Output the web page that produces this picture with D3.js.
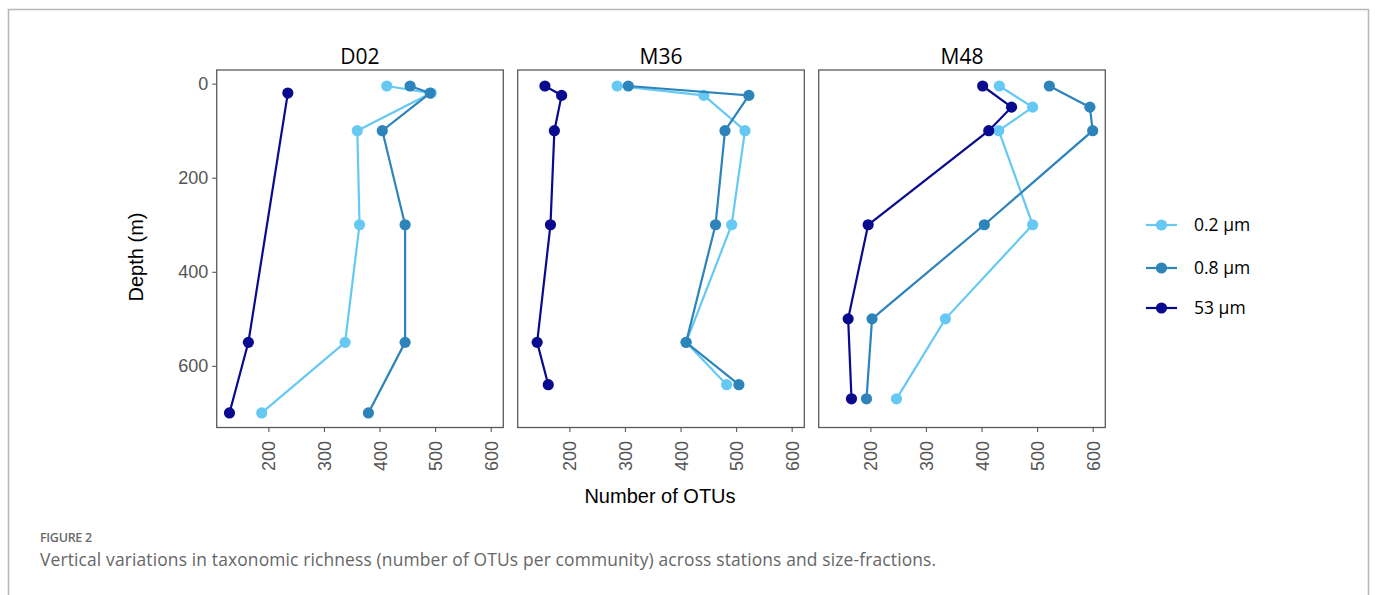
<!DOCTYPE html>
<html>
<head>
<meta charset="utf-8">
<script src="https://cdn.jsdelivr.net/npm/d3@7"></script>
<style>
    body { margin: 0; background: #fff; }
    svg { display: block; }
</style>
</head>
<body>
<div id="wrapper"></div>
<script>
// panels and size fractions
const stations = ['D02', 'M36', 'M48'];
const fractions = ['0.2 µm', '0.8 µm', '53 µm'];
const fractionColors = ['#66c9f4', '#2d84bb', '#0a0a8e'];

// sampling depths (m)
const d02Depths = [5, 20, 100, 300, 550, 700];
const d02DepthsLarge = [20, 550, 700];
const m36Depths = [5, 25, 100, 300, 550, 640];
const m48Depths = [5, 50, 100, 300, 500, 670];

// number of OTUs per community
const d02Otu02 = [413, 493, 360, 364, 338, 188];
const d02Otu08 = [455, 491, 405, 446, 446, 380];
const d02Otu53 = [235, 164, 130];
const m36Otu02 = [286, 442, 516, 492, 410, 483];
const m36Otu08 = [306, 523, 480, 463, 410, 505];
const m36Otu53 = [156, 186, 173, 166, 142, 162];
const m48Otu02 = [432, 492, 431, 492, 335, 247];
const m48Otu08 = [522, 595, 600, 405, 203, 193];
const m48Otu53 = [402, 454, 413, 196, 160, 166];

const xTicks = [200, 300, 400, 500, 600];
const yTicks = [0, 200, 400, 600];

const pair = (depths, otus) => depths.map((d, i) => ({depth: d, otu: otus[i]}));

const panels = [
    [pair(d02Depths, d02Otu02), pair(d02Depths, d02Otu08), pair(d02DepthsLarge, d02Otu53)],
    [pair(m36Depths, m36Otu02), pair(m36Depths, m36Otu08), pair(m36Depths, m36Otu53)],
    [pair(m48Depths, m48Otu02), pair(m48Depths, m48Otu08), pair(m48Depths, m48Otu53)]
];

const dimensions = {
    width: 1375,
    height: 595,
    panelLeft: 216.7,
    panelTop: 70,
    panelWidth: 286.6,
    panelHeight: 357.5,
    panelGap: 14.4
};

const svg = d3.select('#wrapper')
    .append('svg')
    .attr('width', dimensions.width)
    .attr('height', dimensions.height);

// outer figure frame
svg.append('path')
    .attr('d', 'M8.5,600 V9.5 H1368.5 V600')
    .attr('fill', 'none')
    .attr('stroke', '#b8b8b8')
    .attr('stroke-width', 1.6);

const xScale = d3.scaleLinear()
    .domain([107, 622.7])
    .range([0, dimensions.panelWidth]);

const yScale = d3.scaleLinear()
    .domain([-29, 731])
    .range([0, dimensions.panelHeight]);

const line = d3.line()
    .x(d => xScale(d.otu))
    .y(d => yScale(d.depth));

const tickFont = '"Liberation Sans", Arial, sans-serif';
const titleFont = '"Open Sans", "Noto Sans", sans-serif';

stations.forEach((name, p) => {
    const left = dimensions.panelLeft + p * (dimensions.panelWidth + dimensions.panelGap);
    const g = svg.append('g')
        .attr('transform', `translate(${left},${dimensions.panelTop})`);

    g.append('rect')
        .attr('width', dimensions.panelWidth)
        .attr('height', dimensions.panelHeight)
        .attr('fill', '#fff');

    panels[p].forEach((series, s) => {
        g.append('path')
            .datum(series)
            .attr('d', line)
            .attr('fill', 'none')
            .attr('stroke', fractionColors[s])
            .attr('stroke-width', 2.2);
        g.selectAll(null)
            .data(series)
            .enter()
            .append('circle')
            .attr('cx', d => xScale(d.otu))
            .attr('cy', d => yScale(d.depth))
            .attr('r', 5.6)
            .attr('fill', fractionColors[s]);
    });

    g.append('rect')
        .attr('width', dimensions.panelWidth)
        .attr('height', dimensions.panelHeight)
        .attr('fill', 'none')
        .attr('stroke', '#5a5a5a')
        .attr('stroke-width', 1.3);

    g.append('text')
        .attr('x', dimensions.panelWidth / 2)
        .attr('y', -6.5)
        .attr('text-anchor', 'middle')
        .style('font-family', titleFont)
        .style('font-size', '21px')
        .attr('fill', '#000')
        .text(name);

    const xAxis = g.append('g')
        .attr('transform', `translate(0,${dimensions.panelHeight})`)
        .call(d3.axisBottom(xScale).tickValues(xTicks).tickSize(4.5).tickPadding(9));
    xAxis.select('.domain').remove();
    xAxis.selectAll('line').attr('stroke', '#5a5a5a').attr('stroke-width', 1.1);
    xAxis.selectAll('text')
        .attr('transform', 'rotate(-90)')
        .attr('x', -13.5)
        .attr('y', 0)
        .attr('dy', '0.36em')
        .attr('text-anchor', 'end')
        .style('font-family', tickFont)
        .style('font-size', '18px')
        .attr('fill', '#555');

    if (p === 0) {
        const yAxis = g.append('g')
            .call(d3.axisLeft(yScale).tickValues(yTicks).tickSize(4.5).tickPadding(4));
        yAxis.select('.domain').remove();
        yAxis.selectAll('line').attr('stroke', '#5a5a5a').attr('stroke-width', 1.1);
        yAxis.selectAll('text')
            .style('font-family', tickFont)
            .style('font-size', '18px')
            .attr('fill', '#555');
    }
});

// axis titles
svg.append('text')
    .attr('transform', 'translate(143,257) rotate(-90)')
    .attr('text-anchor', 'middle')
    .style('font-family', tickFont)
    .style('font-size', '20px')
    .attr('fill', '#000')
    .text('Depth (m)');

svg.append('text')
    .attr('x', 660)
    .attr('y', 503)
    .attr('text-anchor', 'middle')
    .style('font-family', tickFont)
    .style('font-size', '20px')
    .attr('fill', '#000')
    .text('Number of OTUs');

// legend
const legend = svg.append('g')
    .attr('transform', 'translate(1146,225)');
fractions.forEach((label, i) => {
    const row = legend.append('g').attr('transform', `translate(0,${[0, 43, 83][i]})`);
    row.append('line')
        .attr('x1', 0).attr('x2', 31)
        .attr('stroke', fractionColors[i])
        .attr('stroke-width', 2.2);
    row.append('circle')
        .attr('cx', 15.5)
        .attr('r', 5.6)
        .attr('fill', fractionColors[i]);
    row.append('text')
        .attr('x', 48)
        .attr('dy', '0.35em')
        .style('font-family', titleFont)
        .style('font-size', '17.5px')
        .attr('fill', '#000')
        .text(label);
});

// caption
svg.append('text')
    .attr('x', 40)
    .attr('y', 542)
    .style('font-family', titleFont)
    .style('font-size', '12.5px')
    .style('font-weight', 600)
    .style('letter-spacing', '-0.3px')
    .attr('fill', '#6a6a6a')
    .text('FIGURE 2');

svg.append('text')
    .attr('x', 40)
    .attr('y', 566)
    .style('font-family', titleFont)
    .style('font-size', '17.4px')
    .style('letter-spacing', '0.15px')
    .attr('fill', '#666')
    .text('Vertical variations in taxonomic richness (number of OTUs per community) across stations and size-fractions.');
</script>
</body>
</html>
